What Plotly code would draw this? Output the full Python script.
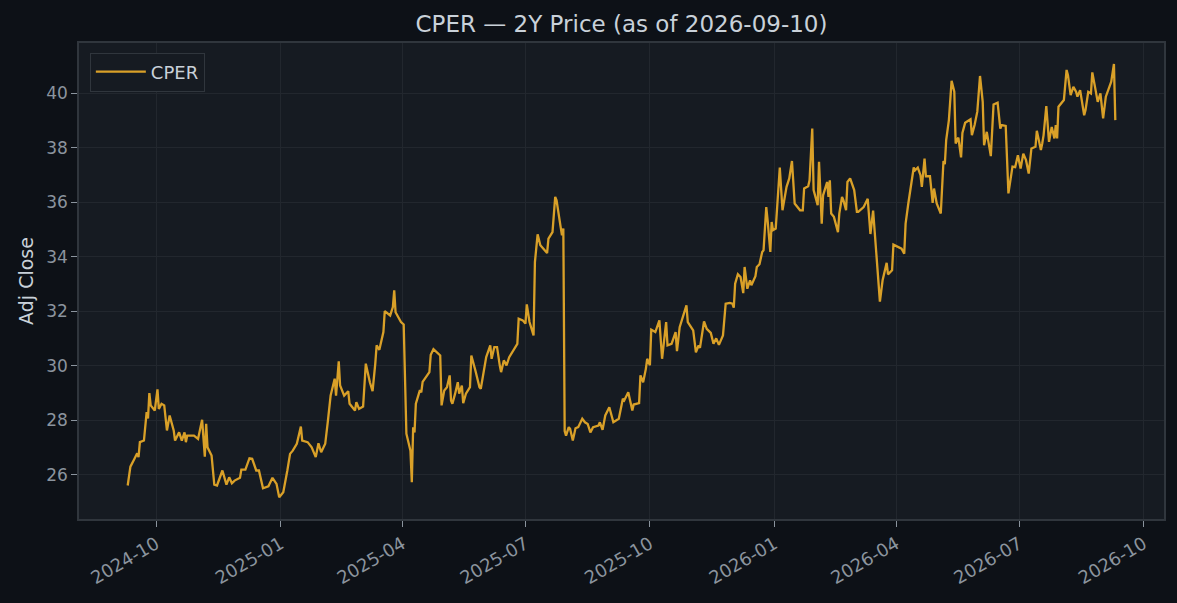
import plotly.graph_objects as go

# ---- data ----
dates_2024 = [
    "2024-09-10", "2024-09-12", "2024-09-15", "2024-09-17", "2024-09-18", "2024-09-19", "2024-09-22", "2024-09-24", "2024-09-25", "2024-09-26", "2024-09-27", "2024-09-30",
    "2024-10-02", "2024-10-03", "2024-10-05", "2024-10-07", "2024-10-09", "2024-10-11", "2024-10-14", "2024-10-15", "2024-10-18", "2024-10-20", "2024-10-22", "2024-10-23", "2024-10-24", "2024-10-29",
    "2024-11-01", "2024-11-04", "2024-11-06", "2024-11-07", "2024-11-08", "2024-11-11", "2024-11-13", "2024-11-15", "2024-11-19", "2024-11-22", "2024-11-24", "2024-11-26", "2024-11-28",
    "2024-12-02", "2024-12-03", "2024-12-06", "2024-12-09", "2024-12-11", "2024-12-14", "2024-12-16", "2024-12-19", "2024-12-23", "2024-12-26", "2024-12-29", "2024-12-31",
]
close_2024 = [
    25.60, 26.29, 26.58, 26.78, 26.64, 27.19, 27.25, 28.29, 28.06, 28.99, 28.54, 28.35,
    29.13, 28.41, 28.60, 28.54, 27.62, 28.17, 27.62, 27.25, 27.55, 27.25, 27.55, 27.19, 27.43, 27.43,
    27.31, 28.01, 26.66, 27.86, 27.00, 26.70, 25.63, 25.60, 26.15, 25.63, 25.90, 25.68, 25.78,
    25.88, 26.18, 26.18, 26.60, 26.58, 26.15, 26.15, 25.50, 25.57, 25.88, 25.66, 25.17,
]

dates_2025 = [
    "2025-01-03", "2025-01-06", "2025-01-08", "2025-01-10", "2025-01-13", "2025-01-16", "2025-01-17", "2025-01-21", "2025-01-24", "2025-01-27", "2025-01-29", "2025-01-31",
    "2025-02-03", "2025-02-05", "2025-02-07", "2025-02-10", "2025-02-11", "2025-02-13", "2025-02-14", "2025-02-17", "2025-02-20", "2025-02-21", "2025-02-25", "2025-02-26", "2025-02-28",
    "2025-03-03", "2025-03-05", "2025-03-08", "2025-03-10", "2025-03-12", "2025-03-13", "2025-03-15", "2025-03-18", "2025-03-19", "2025-03-23", "2025-03-25", "2025-03-26", "2025-03-27", "2025-03-31",
    "2025-04-02", "2025-04-04", "2025-04-07", "2025-04-08", "2025-04-09", "2025-04-10", "2025-04-11", "2025-04-14", "2025-04-15", "2025-04-16", "2025-04-21", "2025-04-22", "2025-04-24", "2025-04-27", "2025-04-29", "2025-04-30",
    "2025-05-02", "2025-05-04", "2025-05-06", "2025-05-07", "2025-05-08", "2025-05-10", "2025-05-12", "2025-05-13", "2025-05-15", "2025-05-16", "2025-05-18", "2025-05-21", "2025-05-22", "2025-05-25", "2025-05-28", "2025-05-29",
    "2025-06-02", "2025-06-05", "2025-06-06", "2025-06-08", "2025-06-10", "2025-06-12", "2025-06-13", "2025-06-15", "2025-06-17", "2025-06-19", "2025-06-23", "2025-06-25", "2025-06-26", "2025-06-29",
    "2025-07-01", "2025-07-02", "2025-07-04", "2025-07-07", "2025-07-08", "2025-07-10", "2025-07-12", "2025-07-17", "2025-07-18", "2025-07-21", "2025-07-23", "2025-07-24", "2025-07-27", "2025-07-28", "2025-07-29", "2025-07-30", "2025-07-31",
    "2025-08-02", "2025-08-03", "2025-08-05", "2025-08-07", "2025-08-09", "2025-08-12", "2025-08-14", "2025-08-16", "2025-08-18", "2025-08-20", "2025-08-24", "2025-08-25", "2025-08-27", "2025-08-29",
    "2025-09-01", "2025-09-04", "2025-09-08", "2025-09-11", "2025-09-12", "2025-09-15", "2025-09-18", "2025-09-19", "2025-09-23", "2025-09-24", "2025-09-26", "2025-09-28", "2025-09-29",
    "2025-10-01", "2025-10-02", "2025-10-05", "2025-10-08", "2025-10-10", "2025-10-13", "2025-10-14", "2025-10-17", "2025-10-20", "2025-10-21", "2025-10-23", "2025-10-25", "2025-10-28", "2025-10-29",
    "2025-11-02", "2025-11-04", "2025-11-06", "2025-11-07", "2025-11-10", "2025-11-12", "2025-11-15", "2025-11-17", "2025-11-19", "2025-11-21", "2025-11-24", "2025-11-26", "2025-11-29",
    "2025-12-01", "2025-12-02", "2025-12-03", "2025-12-05", "2025-12-07", "2025-12-09", "2025-12-10", "2025-12-12", "2025-12-14", "2025-12-15", "2025-12-18", "2025-12-19", "2025-12-21", "2025-12-23", "2025-12-24", "2025-12-26", "2025-12-27", "2025-12-29", "2025-12-30", "2025-12-31",
]
close_2025 = [
    25.35, 26.15, 26.76, 26.88, 27.13, 27.76, 27.25, 27.19, 27.00, 26.64, 27.15, 26.82,
    27.13, 27.98, 28.90, 29.52, 28.90, 30.16, 29.27, 28.90, 29.06, 28.60, 28.35, 28.66, 28.41,
    28.50, 30.07, 29.39, 29.06, 30.07, 30.74, 30.58, 31.23, 32.00, 31.84, 32.15, 32.76, 31.96, 31.60,
    31.51, 27.50, 26.88, 25.72, 27.74, 27.55, 28.60, 29.10, 29.02, 29.40, 29.76, 30.40, 30.60, 30.44, 30.37, 28.54,
    29.09, 29.21, 29.64, 28.72, 28.60, 28.97, 29.39, 28.97, 29.27, 28.62, 28.97, 29.21, 30.37, 29.82, 29.21, 29.15,
    30.31, 30.74, 30.25, 30.68, 30.68, 30.01, 29.76, 30.19, 30.01, 30.31, 30.62, 30.80, 31.72, 31.66,
    31.54, 32.25, 31.60, 31.11, 33.80, 34.82, 34.42, 34.13, 34.66, 34.90, 36.19, 36.07, 35.09, 34.78, 35.03, 27.60, 27.43,
    27.74, 27.68, 27.25, 27.70, 27.74, 28.05, 27.92, 27.86, 27.55, 27.74, 27.80, 27.92, 27.64, 28.17,
    28.47, 27.92, 28.05, 28.78, 28.72, 29.02, 28.35, 28.57, 28.62, 29.64, 29.39, 29.88, 30.25,
    30.01, 31.32, 31.23, 31.66, 30.25, 31.60, 30.74, 30.80, 31.23, 30.53, 31.41, 31.72, 32.21, 31.60,
    31.29, 30.49, 30.74, 30.65, 31.62, 31.35, 31.20, 30.80, 31.00, 30.76, 31.11, 32.27, 32.30,
    32.27, 32.13, 33.01, 33.35, 33.25, 32.66, 33.62, 32.82, 33.13, 32.95, 33.28, 33.62, 33.72, 34.17, 34.23, 35.82, 35.33, 34.17, 35.27, 34.97,
]

dates_2026 = [
    "2026-01-02", "2026-01-05", "2026-01-07", "2026-01-10", "2026-01-12", "2026-01-14", "2026-01-16", "2026-01-20", "2026-01-22", "2026-01-23", "2026-01-26", "2026-01-27", "2026-01-29", "2026-01-30",
    "2026-02-02", "2026-02-03", "2026-02-05", "2026-02-06", "2026-02-09", "2026-02-10", "2026-02-11", "2026-02-12", "2026-02-14", "2026-02-17", "2026-02-18", "2026-02-20", "2026-02-21", "2026-02-23", "2026-02-24", "2026-02-26",
    "2026-03-01", "2026-03-03", "2026-03-04", "2026-03-08", "2026-03-11", "2026-03-13", "2026-03-15", "2026-03-18", "2026-03-20", "2026-03-22", "2026-03-23", "2026-03-25", "2026-03-26", "2026-03-29", "2026-03-30",
    "2026-04-03", "2026-04-05", "2026-04-07", "2026-04-08", "2026-04-10", "2026-04-14", "2026-04-15", "2026-04-17", "2026-04-19", "2026-04-20", "2026-04-22", "2026-04-23", "2026-04-26", "2026-04-28", "2026-04-29",
    "2026-05-01", "2026-05-04", "2026-05-06", "2026-05-07", "2026-05-08", "2026-05-10", "2026-05-12", "2026-05-14", "2026-05-15", "2026-05-17", "2026-05-19", "2026-05-20", "2026-05-22", "2026-05-26", "2026-05-27", "2026-05-29", "2026-05-31",
    "2026-06-02", "2026-06-04", "2026-06-05", "2026-06-07", "2026-06-10", "2026-06-12", "2026-06-15", "2026-06-17", "2026-06-18", "2026-06-21", "2026-06-23", "2026-06-26", "2026-06-28", "2026-06-30",
    "2026-07-02", "2026-07-04", "2026-07-06", "2026-07-08", "2026-07-10", "2026-07-13", "2026-07-14", "2026-07-17", "2026-07-18", "2026-07-19", "2026-07-21", "2026-07-23", "2026-07-25", "2026-07-27", "2026-07-28", "2026-07-29", "2026-07-30",
    "2026-08-01", "2026-08-03", "2026-08-05", "2026-08-06", "2026-08-08", "2026-08-10", "2026-08-12", "2026-08-13", "2026-08-15", "2026-08-18", "2026-08-19", "2026-08-21", "2026-08-23", "2026-08-24", "2026-08-26", "2026-08-28", "2026-08-30",
    "2026-09-01", "2026-09-03", "2026-09-05", "2026-09-07", "2026-09-09", "2026-09-10",
]
close_2026 = [
    35.03, 37.27, 35.70, 36.56, 36.87, 37.51, 35.95, 35.70, 35.70, 36.50, 36.58, 36.80, 38.70, 36.44,
    35.89, 37.48, 35.21, 36.25, 36.74, 36.19, 36.80, 35.58, 35.46, 34.90, 35.58, 36.19, 36.07, 35.70, 36.74, 36.87,
    36.44, 35.64, 35.64, 35.82, 36.12, 34.83, 35.69, 33.70, 32.35, 33.13, 33.38, 33.77, 33.35, 33.50, 34.44,
    34.35, 34.29, 34.11, 35.21, 35.95, 37.27, 37.17, 37.27, 36.99, 36.56, 37.60, 36.95, 36.95, 35.97, 36.50,
    35.95, 35.58, 37.51, 37.39, 38.28, 39.01, 40.45, 40.05, 38.15, 38.37, 37.64, 38.54, 38.91, 39.04, 38.46, 38.83, 39.32,
    40.63, 39.68, 38.09, 38.58, 37.69, 39.58, 39.65, 38.70, 38.83, 38.80, 36.32, 37.30, 37.28, 37.72,
    37.23, 37.78, 37.54, 37.05, 37.97, 38.03, 38.62, 37.91, 38.15, 38.46, 39.52, 38.21, 38.76, 38.34, 38.83, 38.34, 39.50,
    39.62, 39.75, 40.85, 40.66, 39.93, 40.23, 40.05, 39.87, 40.11, 39.19, 39.38, 40.05, 39.99, 40.76, 40.23, 39.68, 39.99,
    39.07, 39.87, 40.17, 40.42, 41.07, 39.01,
]

x_tick_vals = ["2024-10-01", "2025-01-01", "2025-04-01", "2025-07-01", "2025-10-01",
               "2026-01-01", "2026-04-01", "2026-07-01", "2026-10-01"]
x_tick_text = ["2024-10", "2025-01", "2025-04", "2025-07", "2025-10",
               "2026-01", "2026-04", "2026-07", "2026-10"]
y_tick_vals = [26, 28, 30, 32, 34, 36, 38, 40]

assert len(dates_2024) == len(close_2024)
assert len(dates_2025) == len(close_2025)
assert len(dates_2026) == len(close_2026)

dates = dates_2024 + dates_2025 + dates_2026
closes = close_2024 + close_2025 + close_2026

# ---- styling ----
PAPER = "#0d1117"
PLOT = "#161b22"
GRID = "#22272e"
SPINE = "#30363d"
TICK = "#8b949e"
TEXT = "#c9d1d9"
LINE = "#d9a028"
FONT = "DejaVu Sans"

fig = go.Figure()
fig.add_trace(go.Scatter(
    x=dates, y=closes, mode="lines", name="CPER",
    line=dict(color=LINE, width=2.3),
))

fig.update_layout(
    width=1177, height=603,
    paper_bgcolor=PAPER, plot_bgcolor=PLOT,
    margin=dict(l=79, r=13, t=43, b=84),
    font=dict(family=FONT, color=TICK, size=17),
    title=dict(text="CPER — 2Y Price (as of 2026-09-10)", x=0.5, xref="paper",
               y=1 - 24 / 603, yref="container", yanchor="middle", xanchor="center",
               font=dict(family=FONT, size=23, color=TEXT)),
    showlegend=True,
    legend=dict(x=0.01, y=0.98, xanchor="left", yanchor="top",
                bgcolor=PLOT, bordercolor=SPINE, borderwidth=1,
                itemwidth=50,
                font=dict(family=FONT, size=18, color=TEXT)),
)

fig.update_xaxes(
    type="date", range=["2024-08-05", "2026-10-16"],
    tickvals=x_tick_vals, ticktext=x_tick_text, tickangle=-30,
    showgrid=True, gridcolor=GRID, gridwidth=1,
    showline=True, linecolor=SPINE, linewidth=1.5, mirror=True,
    ticks="outside", ticklen=6, tickcolor=TICK, tickwidth=1,
    tickfont=dict(family=FONT, size=18, color=TICK),
    zeroline=False,
)
fig.update_yaxes(
    range=[24.37, 41.84], tickvals=y_tick_vals,
    showgrid=True, gridcolor=GRID, gridwidth=1,
    showline=True, linecolor=SPINE, linewidth=1.5, mirror=True,
    ticks="outside", ticklen=6, tickcolor=TICK, tickwidth=1,
    tickfont=dict(family=FONT, size=17, color=TICK),
    title=dict(text="Adj Close", font=dict(family=FONT, size=19, color=TEXT), standoff=8),
    zeroline=False,
)

fig.write_html(
    "out.html",
    config={"displayModeBar": False},
    post_script="document.body.style.margin='0';document.body.style.background='#0d1117';",
)
